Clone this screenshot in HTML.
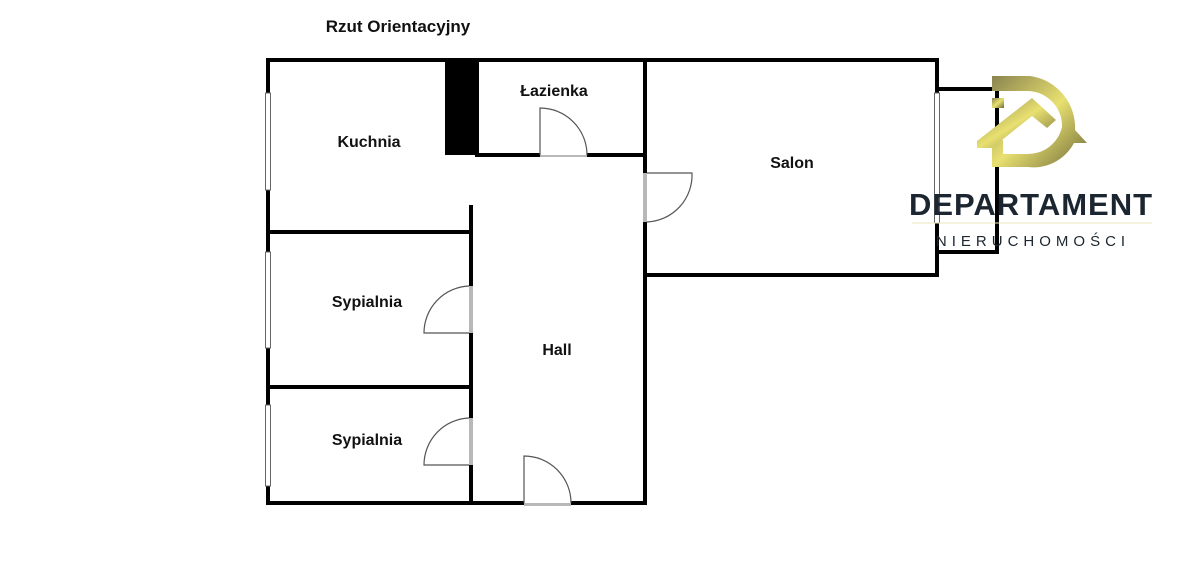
<!DOCTYPE html>
<html><head><meta charset="utf-8"><style>
html,body{margin:0;padding:0;background:#fff;}
svg{display:block}
text{font-family:"Liberation Sans",sans-serif;}
</style></head><body>
<svg width="1200" height="564" viewBox="0 0 1200 564" xmlns="http://www.w3.org/2000/svg">
<defs>
<linearGradient id="g" x1="0" y1="0" x2="1" y2="1">
<stop offset="0" stop-color="#8a8450"/><stop offset="0.5" stop-color="#e8e070"/><stop offset="1" stop-color="#6f6a3a"/>
</linearGradient>
</defs>
<text x="398" y="32" font-size="17" font-weight="bold" text-anchor="middle" fill="#111">Rzut Orientacyjny</text>
<g stroke="#000" stroke-width="4" fill="none" stroke-linecap="square">
<path d="M268 60 H937 V275 H645"/>
<path d="M268 60 V503 H645 V155"/>
<path d="M477 60 V155 H645 V60"/>
<path d="M268 232 H471"/>
<path d="M268 387 H471"/>
<path d="M471 207 V503"/>
<path d="M937 89 H997 V252 H937"/>
</g>
<rect x="445" y="60" width="32" height="95" fill="#000"/>
<g fill="#fff" stroke="#666" stroke-width="1">
<rect x="265.5" y="93" width="5" height="97"/>
<rect x="265.5" y="252" width="5" height="96"/>
<rect x="265.5" y="405" width="5" height="81"/>
<rect x="934.5" y="93" width="5" height="130"/>
</g>
<g fill="#b8b8b8">
<rect x="540" y="152" width="47" height="5"/>
<rect x="643" y="173" width="4" height="49"/>
<rect x="469" y="286" width="4" height="47"/>
<rect x="469" y="418" width="4" height="47"/>
<rect x="524" y="501" width="47" height="5"/>
</g>
<g fill="#fff" stroke="#555" stroke-width="1.2">
<path d="M540 155 V108 A47 47 0 0 1 587 155"/>
<path d="M647 173 H692 A47 47 0 0 1 647 222"/>
<path d="M469 333 H424 A47 47 0 0 1 469 286"/>
<path d="M469 465 H424 A47 47 0 0 1 469 418"/>
<path d="M524 503 V456 A47 47 0 0 1 571 503"/>
</g>
<g font-size="16" font-weight="bold" fill="#111" text-anchor="middle">
<text x="369" y="147">Kuchnia</text>
<text x="554" y="96">Łazienka</text>
<text x="792" y="168">Salon</text>
<text x="367" y="307">Sypialnia</text>
<text x="367" y="445">Sypialnia</text>
<text x="557" y="355">Hall</text>
</g>
<path d="M992 76 H1030 A52 52 0 0 1 1075 130 L1087 143 H1074 A46 46 0 0 1 1028 167 H992 V140 H1003 V154 H1027 A35 35 0 0 0 1062 127 A35 35 0 0 0 1028 91 H992 Z" fill="url(#g)"/>
<path d="M977 141 L1032 98 L1056 120 L1047 128 L1032 116 L992 148 H977 Z" fill="url(#g)"/>
<rect x="992" y="98" width="12" height="10" fill="url(#g)"/>
<text x="1031" y="215" font-size="31" font-weight="bold" fill="#1c2630" text-anchor="middle" letter-spacing="1">DEPARTAMENT</text>
<line x1="912" y1="223" x2="1152" y2="223" stroke="#ece7b8" stroke-width="1"/>
<text x="1033" y="246" font-size="15" fill="#1c2630" text-anchor="middle" letter-spacing="5">NIERUCHOMOŚCI</text>
</svg>
</body></html>
